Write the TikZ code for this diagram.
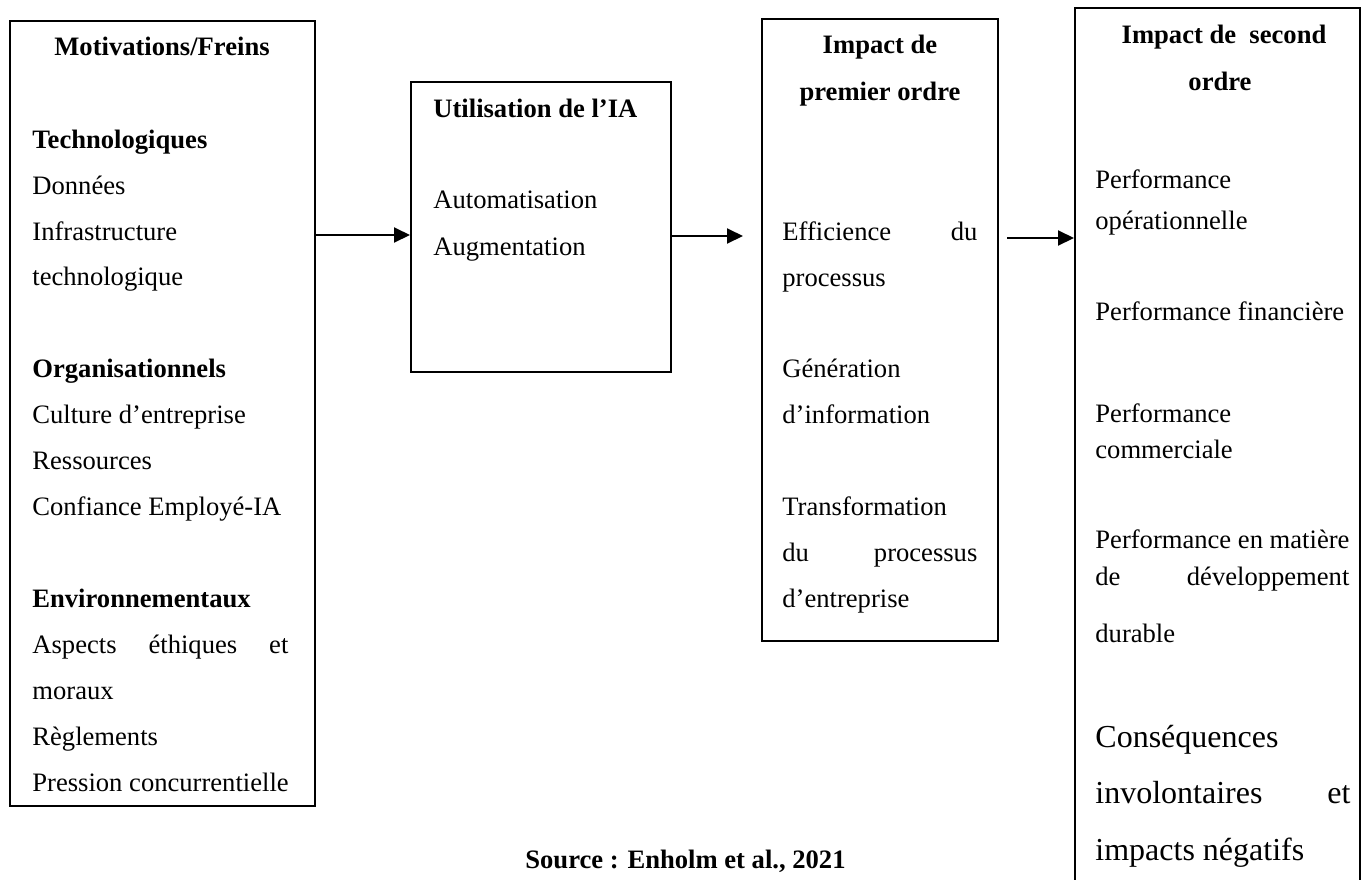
\documentclass[tikz,border=0pt]{standalone}
\usepackage{fontspec}
\setmainfont{Liberation Serif}
\usetikzlibrary{fit,arrows.meta}
\begin{document}
\begin{tikzpicture}[x=0.5pt,y=-0.5pt,
  box/.style={draw,line width=1pt,inner sep=0pt},
  txt/.style={anchor=base west,inner sep=0pt,font=\fontsize{13.3}{16}\selectfont},
  big/.style={anchor=base west,inner sep=0pt,font=\fontsize{16}{19}\selectfont},
  ttl/.style={anchor=base,inner sep=0pt,font=\fontsize{13.3}{16}\selectfont\bfseries},
  arr/.style={line width=1pt,-{Triangle[length=8pt,width=7.5pt]}}]
\useasboundingbox (0,0) rectangle (1361,879);
\clip (0,0) rectangle (1361,879);
% corner coordinates
\coordinate (b1nw) at (10,21);   \coordinate (b1se) at (315,806);
\coordinate (b2nw) at (411,82);  \coordinate (b2se) at (671,372);
\coordinate (b3nw) at (762,19);  \coordinate (b3se) at (998,641);
\coordinate (b4nw) at (1075,8);  \coordinate (b4se) at (1360,920);
% boxes
\node[box,fit=(b1nw)(b1se)] (b1) {};
\node[box,fit=(b2nw)(b2se)] (b2) {};
\node[box,fit=(b3nw)(b3se)] (b3) {};
\node[box,fit=(b4nw)(b4se)] (b4) {};
% box 1
\node[ttl] (t1) at (162,55) {Motivations/Freins};
\foreach \y/\t [count=\i] in {
  148/{\bfseries Technologiques}, 194/Données, 240/Infrastructure, 285/technologique,
  377/{\bfseries Organisationnels}, 423/Culture d’entreprise, 469/Ressources, 515/Confiance Employé-IA,
  607/{\bfseries Environnementaux}, 653/{\makebox[128pt][s]{Aspects éthiques et}}, 699/moraux,
  745/Règlements, 791/Pression concurrentielle}
  \node[txt] (m\i) at (32,\y) {\t};
% box 2
\node[txt,font=\fontsize{13.3}{16}\selectfont\bfseries] (t2) at (433,117) {Utilisation de l’IA};
\node[txt] (u1) at (433,208) {Automatisation};
\node[txt] (u2) at (433,255) {Augmentation};
% box 3
\node[ttl] (t3a) at (880,53) {Impact de};
\node[ttl] (t3b) at (880,100) {premier ordre};
\foreach \y/\t [count=\i] in {
  240/{\makebox[97.5pt][s]{Efficience du}}, 286/processus, 377/Génération, 423/d’information,
  515/Transformation, 561/{\makebox[97.5pt][s]{du processus}}, 607/d’entreprise}
  \node[txt] (f\i) at (782,\y) {\t};
% box 4
\node[ttl] (t4a) at (1224,43) {Impact de~ second};
\node[ttl] (t4b) at (1220,90) {ordre};
\foreach \y/\t [count=\i] in {
  188/Performance, 229/opérationnelle, 320/Performance financière, 422/Performance,
  458/commerciale, 548/Performance en matière, 585/{\makebox[127pt][s]{de développement}},
  642/durable}
  \node[txt] (s\i) at (1095,\y) {\t};
\node[big] (c1) at (1095,747) {Conséquences};
\node[big] (c2) at (1095,803) {\makebox[127.5pt][s]{involontaires et}};
\node[big] (c3) at (1095,860) {impacts négatifs};
% source
\node[txt,font=\fontsize{13.3}{16}\selectfont\bfseries] (src) at (525,868) {Source : Enholm et al., 2021};
% arrows
\coordinate (p1) at (315,235);
\coordinate (p2) at (743,236);
\coordinate (p3) at (1007,238);
\draw[arr] (b1.east |- p1) -- (b2.west |- p1);
\draw[arr] (b2.east |- p2) -- (p2);
\draw[arr] (p3) -- (b4.west |- p3);
\end{tikzpicture}
\end{document}
